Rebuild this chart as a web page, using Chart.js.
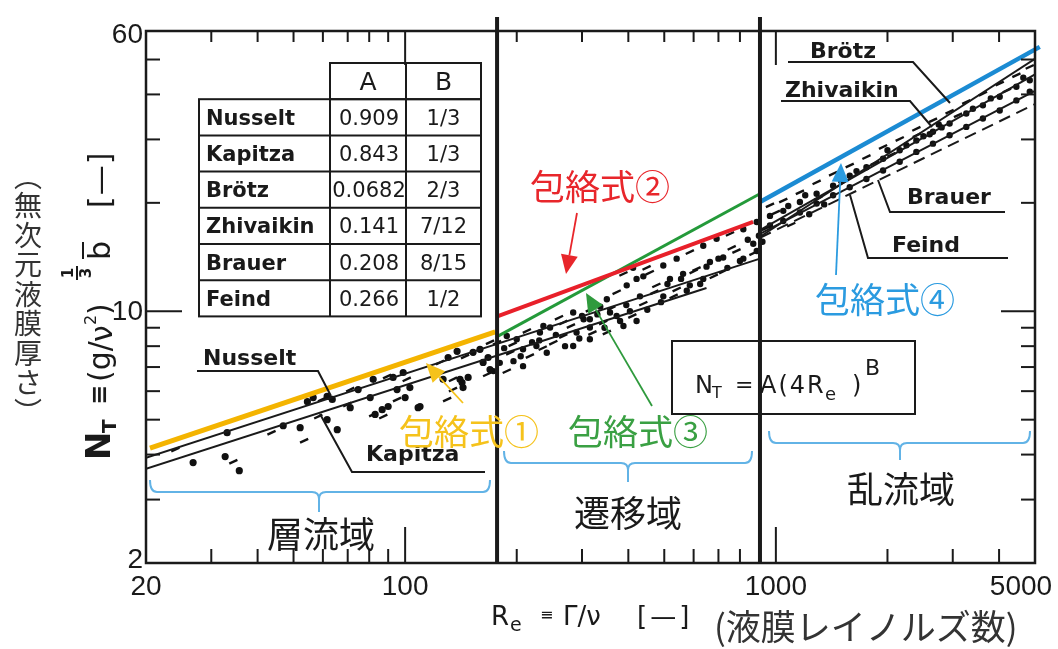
<!DOCTYPE html>
<html>
<head>
<meta charset="utf-8">
<script src="https://cdn.jsdelivr.net/npm/chart.js@4.4.0/dist/chart.umd.min.js"></script>
<style>
  html, body { margin: 0; padding: 0; background: #fff; }
  canvas { display: block; }
</style>
</head>
<body>
<canvas id="chart" width="1058" height="649"></canvas>
<script>
// axes (log-log)
const xRange = [20, 5000];
const yRange = [2, 60];
const xTickLabels = [20, 100, 1000, 5000];
const yTickLabels = [2, 10, 60];
const xMinorTicks = [30, 40, 50, 60, 70, 80, 90, 200, 300, 400, 500, 600, 700, 800, 2000, 3000, 4000];
const xMajorTicks = [100, 1000];
const yMinorTicks = [3, 4, 5, 6, 7, 8, 9, 20, 30, 40, 50];
const yMajorTicks = [10];
const regionBounds = [177, 906];   // laminar | transition | turbulent

// correlation lines N_T = A(4Re)^B, end points
const nusseltLine = [[20, 3.92], [906, 14.0]];
const kapitzaLine = [[20, 3.65], [650, 11.6]];
const brotzLine = [[906, 16.1], [5000, 50.2]];
const zhivaikinLine = [[906, 16.8], [5000, 45.5]];
const brauerLine = [[906, 16.4], [5000, 40.9]];
const feindLine = [[906, 16.0], [5000, 37.6]];

// envelopes (包絡式 1-4)
const envelope1 = [[20.5, 4.17], [175, 8.76]];
const envelope2 = [[178, 9.70], [868, 17.7]];
const envelope3 = [[178, 8.53], [906, 21.2]];
const envelope4 = [[906, 20.1], [5150, 54.2]];

// measured points [Re, N_T]
const laminarPts = [
  [24.0, 4.13], [26.8, 3.80], [32.7, 3.95], [34.4, 3.82], [35.7, 3.61], [33.1, 4.60], [43.6, 4.60],
  [46.9, 4.81], [52.1, 4.75], [53.4, 4.37], [54.5, 5.61], [56.5, 5.76], [59.7, 5.69], [61.6, 5.80],
  [63.6, 5.69], [58.3, 5.10], [61.6, 5.00], [65.6, 4.69], [71.1, 6.06], [74.7, 6.06], [80.5, 5.76],
  [69.8, 5.51], [71.1, 5.40], [82.0, 6.47], [89.4, 6.59], [92.8, 6.55], [98.8, 6.76], [101, 6.47],
  [95.1, 6.06], [103, 6.14], [82.0, 5.17], [86.7, 5.33], [90.0, 5.44], [95.1, 5.69], [100, 5.76],
  [108.4, 5.40], [124.2, 7.21], [130.6, 7.44], [138.1, 7.74], [145.1, 7.49], [152.5, 7.69], [159.2, 7.84],
  [169.4, 8.20], [167.4, 7.44], [126.6, 6.47], [134.6, 6.47], [142.4, 6.34], [147.9, 6.55], [129.8, 5.69],
  [162.3, 7.21], [169.4, 6.89], [166.4, 6.68], [140.6, 6.47], [143.3, 6.14], [134.6, 6.06], [109.7, 5.44],
  [83.0, 5.17], [87.3, 5.10]
];
const transitionPts = [
  [177, 8.18], [188, 8.54], [200, 8.36], [213, 8.82], [231, 8.73], [246, 9.01], [192, 7.67], [208, 7.84],
  [226, 8.01], [251, 8.18], [180, 7.19], [196, 7.27], [217, 7.51], [241, 7.67], [173, 6.82], [188, 6.82],
  [208, 7.04], [236, 9.10], [267, 9.30], [284, 9.92], [303, 9.50], [315, 10.1], [336, 10.3], [350, 10.8],
  [372, 11.3], [396, 11.8], [421, 12.3], [267, 8.54], [290, 8.73], [315, 9.01], [342, 9.30], [372, 9.70],
  [404, 10.0], [439, 10.5], [284, 8.01], [315, 8.36], [350, 8.73], [388, 9.10], [421, 9.40], [388, 12.7],
  [412, 13.2], [439, 12.5], [457, 12.8], [497, 13.4], [540, 14.0], [586, 14.6], [637, 15.2], [692, 15.9],
  [752, 16.4], [817, 16.9], [888, 17.7], [476, 11.8], [518, 12.3], [562, 12.7], [611, 13.1], [664, 13.7],
  [721, 14.1], [783, 14.7], [869, 15.4], [497, 11.0], [540, 11.5], [586, 11.8], [637, 12.3], [721, 12.9],
  [817, 14.0], [888, 14.7], [448, 13.2], [315, 9.50], [357, 9.92], [260, 9.60], [230, 8.30],
  [185, 7.9], [195, 8.1], [205, 7.5], [220, 8.2], [235, 7.9], [255, 8.6], [270, 8.0], [280, 9.1],
  [295, 8.4], [300, 9.7], [320, 8.7], [330, 9.8], [345, 9.0], [360, 10.2], [380, 9.4], [395, 10.4],
  [410, 9.7], [430, 11.0], [450, 10.1], [470, 11.3], [490, 10.6], [510, 11.9], [530, 11.0], [555, 12.3],
  [575, 11.4], [600, 12.9], [625, 11.9], [650, 13.3], [680, 12.5], [700, 14.0], [740, 13.2], [760, 15.0],
  [800, 13.8], [840, 15.8], [870, 14.5], [900, 16.2], [920, 15.6], [940, 17.0]
];
const turbulentPts = [
  [964, 19.7], [964, 18.4], [964, 17.3], [1047, 20.3], [1047, 19.0], [1047, 17.8], [1161, 21.4], [1161, 20.1],
  [1161, 18.8], [1288, 22.8], [1288, 21.2], [1288, 19.9], [1427, 24.1], [1427, 22.3], [1427, 21.0],
  [1582, 25.4], [1582, 23.8], [1582, 22.1], [1755, 26.8], [1755, 25.1], [1755, 23.3], [1946, 28.6],
  [1946, 26.5], [1946, 24.6], [2158, 30.1], [2158, 28.0], [2158, 26.0], [2393, 32.1], [2393, 29.8],
  [2393, 27.7], [2653, 33.9], [2653, 31.5], [2653, 29.2], [2942, 35.8], [2942, 33.2], [2942, 30.8],
  [3263, 38.1], [3263, 35.4], [3263, 32.5], [3618, 40.2], [3618, 37.3], [3618, 34.3], [4016, 42.9],
  [4016, 39.4], [4016, 36.1], [4454, 45.2], [4454, 42.0], [4454, 38.5], [4840, 47.7], [4840, 43.8],
  [4840, 40.7], [1100, 17.4], [1230, 18.6], [1350, 19.8], [2050, 27.2], [2500, 30.6], [2800, 32.4],
  [1000, 18.8], [1080, 19.6], [1200, 21.0], [1300, 20.6], [1500, 23.0], [1650, 24.5], [1850, 25.8],
  [2000, 28.0], [2250, 28.9], [2400, 30.8], [2600, 31.0], [2750, 33.0], [3100, 35.0], [3400, 36.5],
  [3800, 39.0], [4200, 41.0], [4650, 44.5]
];

// table of coefficients
const tableNames = ['Nusselt', 'Kapitza', 'Brötz', 'Zhivaikin', 'Brauer', 'Feind'];
const tableA = ['0.909', '0.843', '0.0682', '0.141', '0.208', '0.266'];
const tableB = ['1/3', '1/3', '2/3', '7/12', '8/15', '1/2'];

const toXY = arr => arr.map(p => ({ x: p[0], y: p[1] }));

function lineSet(pts, color, width, order, dash, clip) {
  return {
    data: toXY(pts), showLine: true, borderColor: color, borderWidth: width,
    borderDash: dash || [], pointRadius: 0, order: order,
    clip: clip === undefined ? 0 : clip, borderCapStyle: 'butt'
  };
}

function pointSet(pts, dotSize) {
  return {
    data: toXY(pts), showLine: false, order: 5,
    backgroundColor: '#111', borderColor: '#111', borderWidth: 2.4,
    pointStyle: c => (c.dataIndex % 3 === 0 ? 'line' : 'circle'),
    pointRotation: -25,
    pointRadius: c => (c.dataIndex % 3 === 0 ? 4.5 : dotSize)
  };
}

const SANS = '"DejaVu Sans"';
const JP = '"Noto Sans CJK JP"';

function seg(ctx, pts) {
  ctx.beginPath();
  ctx.moveTo(pts[0][0], pts[0][1]);
  for (let i = 1; i < pts.length; i++) ctx.lineTo(pts[i][0], pts[i][1]);
  ctx.stroke();
}

function text(ctx, s, x, y, font, color, align, base) {
  ctx.font = font;
  ctx.fillStyle = color;
  ctx.textAlign = align || 'left';
  ctx.textBaseline = base || 'alphabetic';
  ctx.fillText(s, x, y);
}

function arrow(ctx, x0, y0, x1, y1, color) {
  const ang = Math.atan2(y1 - y0, x1 - x0);
  const len = 19, half = 8.5;
  const bx = x1 - len * Math.cos(ang), by = y1 - len * Math.sin(ang);
  ctx.strokeStyle = color;
  ctx.fillStyle = color;
  ctx.lineWidth = 1.8;
  seg(ctx, [[x0, y0], [bx, by]]);
  ctx.beginPath();
  ctx.moveTo(x1, y1);
  ctx.lineTo(bx + half * Math.sin(ang), by - half * Math.cos(ang));
  ctx.lineTo(bx - half * Math.sin(ang), by + half * Math.cos(ang));
  ctx.closePath();
  ctx.fill();
}

function brace(ctx, x1, x2, xc, y, up, down) {
  const r = 7;
  ctx.strokeStyle = '#62b3e6';
  ctx.lineWidth = 2;
  ctx.beginPath();
  ctx.moveTo(x1, y - up);
  ctx.quadraticCurveTo(x1, y, x1 + r, y);
  ctx.lineTo(xc - r, y);
  ctx.quadraticCurveTo(xc, y, xc, y + r);
  ctx.lineTo(xc, y + down);
  ctx.moveTo(xc, y + r);
  ctx.quadraticCurveTo(xc, y, xc + r, y);
  ctx.lineTo(x2 - r, y);
  ctx.quadraticCurveTo(x2, y, x2, y - up);
  ctx.stroke();
}

const decorations = {
  id: 'decorations',
  afterDatasetsDraw(chart) {
    const ctx = chart.ctx;
    const a = chart.chartArea;
    const xs = chart.scales.x, ys = chart.scales.y;
    ctx.save();
    ctx.lineCap = 'butt';

    // frame and ticks
    ctx.strokeStyle = '#1a1a1a';
    ctx.lineWidth = 2.5;
    ctx.strokeRect(a.left, a.top, a.right - a.left, a.bottom - a.top);
    ctx.lineWidth = 2;
    xMinorTicks.forEach(v => {
      const p = xs.getPixelForValue(v);
      seg(ctx, [[p, a.bottom], [p, a.bottom - 14]]);
      seg(ctx, [[p, a.top], [p, a.top + 11]]);
    });
    xMajorTicks.forEach(v => {
      const p = xs.getPixelForValue(v);
      seg(ctx, [[p, a.bottom], [p, a.bottom - 36]]);
      seg(ctx, [[p, a.top], [p, a.top + 34]]);
    });
    yMinorTicks.forEach(v => {
      const p = ys.getPixelForValue(v);
      seg(ctx, [[a.left, p], [a.left + 14, p]]);
      seg(ctx, [[a.right, p], [a.right - 14, p]]);
    });
    yMajorTicks.forEach(v => {
      const p = ys.getPixelForValue(v);
      seg(ctx, [[a.left, p], [a.left + 36, p]]);
      seg(ctx, [[a.right, p], [a.right - 34, p]]);
    });

    // region boundaries
    ctx.lineWidth = 4;
    regionBounds.forEach(v => {
      const p = xs.getPixelForValue(v);
      seg(ctx, [[p, a.top - 14], [p, a.bottom]]);
    });

    // tick labels
    const tickFont = '28px "Liberation Sans"';
    xTickLabels.forEach(v => {
      let p = xs.getPixelForValue(v);
      if (v === 5000) p -= 14;
      text(ctx, String(v), p, 587, tickFont, '#1a1a1a', 'center', 'middle');
    });
    yTickLabels.forEach(v => {
      let p = ys.getPixelForValue(v);
      if (v === 60) p += 3;
      if (v === 2) p -= 4;
      text(ctx, String(v), 143, p + 1, tickFont, '#1a1a1a', 'right', 'middle');
    });

    // coefficient table
    ctx.strokeStyle = '#1a1a1a';
    ctx.lineWidth = 2;
    const tx = [199, 330, 406, 481], ty0 = 63, th = 36.2, rows = tableNames.length;
    ctx.strokeRect(tx[1], ty0, tx[3] - tx[1], th);
    ctx.strokeRect(tx[0], ty0 + th, tx[3] - tx[0], th * rows);
    seg(ctx, [[tx[2], ty0], [tx[2], ty0 + th * (rows + 1)]]);
    seg(ctx, [[tx[1], ty0 + th], [tx[1], ty0 + th * (rows + 1)]]);
    for (let i = 2; i <= rows; i++) seg(ctx, [[tx[0], ty0 + th * i], [tx[3], ty0 + th * i]]);
    text(ctx, 'A', (tx[1] + tx[2]) / 2, ty0 + th / 2 + 2, '25px ' + SANS, '#1a1a1a', 'center', 'middle');
    text(ctx, 'B', (tx[2] + tx[3]) / 2, ty0 + th / 2 + 2, '25px ' + SANS, '#1a1a1a', 'center', 'middle');
    tableNames.forEach((n, i) => {
      const cy = ty0 + th * (i + 1) + th / 2 + 2;
      text(ctx, n, tx[0] + 7, cy, 'bold 21px ' + SANS, '#1a1a1a', 'left', 'middle');
      text(ctx, tableA[i], (tx[1] + tx[2]) / 2 + 1, cy, '21px ' + SANS, '#1a1a1a', 'center', 'middle');
      text(ctx, tableB[i], (tx[2] + tx[3]) / 2, cy, '21px ' + SANS, '#1a1a1a', 'center', 'middle');
    });

    // correlation labels with leader lines
    const lf = 'bold 22px ' + SANS;
    ctx.lineWidth = 2;
    ctx.strokeStyle = '#1a1a1a';
    text(ctx, 'Nusselt', 203, 365, lf, '#1a1a1a');
    seg(ctx, [[197, 371], [318, 371], [331, 396]]);
    text(ctx, 'Kapitza', 366, 461, lf, '#1a1a1a');
    seg(ctx, [[320, 414], [352, 472], [485, 472]]);
    text(ctx, 'Brötz', 810, 58, lf, '#1a1a1a');
    seg(ctx, [[788, 62], [913, 62], [950, 103]]);
    text(ctx, 'Zhivaikin', 785, 97, lf, '#1a1a1a');
    seg(ctx, [[781, 101], [910, 101], [932, 127]]);
    text(ctx, 'Brauer', 907, 204, lf, '#1a1a1a');
    seg(ctx, [[878, 180], [890, 212], [1005, 212]]);
    text(ctx, 'Feind', 892, 252, lf, '#1a1a1a');
    seg(ctx, [[850, 195], [868, 258], [1008, 258]]);

    // envelope labels and arrows
    const ef = '35px ' + JP;
    text(ctx, '包絡式②', 530, 187, ef, '#e8262b', 'left', 'middle');
    arrow(ctx, 577, 213, 566, 274, '#e8262b');
    text(ctx, '包絡式①', 399, 432, ef, '#f5c21b', 'left', 'middle');
    arrow(ctx, 463, 403, 426, 363, '#f5c21b');
    text(ctx, '包絡式③', 568, 432, ef, '#3aa043', 'left', 'middle');
    arrow(ctx, 652, 406, 586, 293, '#2f9a3d');
    text(ctx, '包絡式④', 815, 300, ef, '#2b9be0', 'left', 'middle');
    arrow(ctx, 836, 275, 841, 163, '#2b9be0');

    // formula box
    ctx.strokeStyle = '#1a1a1a';
    ctx.lineWidth = 2;
    ctx.strokeRect(672, 341, 243, 73);
    text(ctx, 'N', 695, 393, '24px ' + SANS, '#1a1a1a');
    text(ctx, 'T', 712, 398, '16px ' + SANS, '#1a1a1a');
    text(ctx, '=', 735, 392, '22px ' + SANS, '#1a1a1a');
    ctx.letterSpacing = '2px';
    text(ctx, 'A(4R', 760, 393, '24px ' + SANS, '#1a1a1a');
    ctx.letterSpacing = '0px';
    text(ctx, 'e', 825, 400, '18px ' + SANS, '#1a1a1a');
    text(ctx, ')', 852, 393, '24px ' + SANS, '#1a1a1a');
    text(ctx, 'B', 865, 375, '22px ' + SANS, '#1a1a1a');

    // regime braces and names
    brace(ctx, 150, 490, 319, 492, 12, 20);
    brace(ctx, 504, 752, 628, 463, 12, 19);
    brace(ctx, 769, 1030, 900, 443, 12, 17);
    const rf = '36px ' + JP;
    text(ctx, '層流域', 321, 534, rf, '#1a1a1a', 'center', 'middle');
    text(ctx, '遷移域', 628, 513, rf, '#1a1a1a', 'center', 'middle');
    text(ctx, '乱流域', 901, 489, rf, '#1a1a1a', 'center', 'middle');

    // x axis title
    text(ctx, 'R', 491, 625, '26px ' + SANS, '#1a1a1a');
    text(ctx, 'e', 510, 631, '19px ' + SANS, '#1a1a1a');
    text(ctx, '≡', 540, 620, '16px ' + SANS, '#1a1a1a');
    text(ctx, 'Γ/ν', 563, 625, '26px ' + SANS, '#1a1a1a');
    ctx.letterSpacing = '3px';
    text(ctx, '[—]', 637, 625, '26px ' + SANS, '#1a1a1a');
    ctx.letterSpacing = '0px';
    text(ctx, '(液膜レイノルズ数)', 714, 627, '35px ' + JP, '#333', 'left', 'middle');

    // y axis title (rotated)
    ctx.save();
    ctx.translate(110, 460);
    ctx.rotate(-Math.PI / 2);
    text(ctx, 'N', 0, 0, 'bold 34px ' + SANS, '#1a1a1a');
    text(ctx, 'T', 27, 6, 'bold 20px ' + SANS, '#1a1a1a');
    text(ctx, '≡', 55, -3, 'bold 24px ' + SANS, '#1a1a1a');
    text(ctx, '(g/', 78, 0, '30px ' + SANS, '#1a1a1a');
    text(ctx, 'ν', 118, 2, '30px ' + SANS, '#1a1a1a');
    text(ctx, '2', 135, -14, '16px ' + SANS, '#1a1a1a');
    text(ctx, ')', 145, 0, '30px ' + SANS, '#1a1a1a');
    text(ctx, '1', 187, -37, 'bold 15px ' + SANS, '#1a1a1a', 'center');
    ctx.fillStyle = '#1a1a1a';
    ctx.fillRect(180, -34, 14, 2);
    text(ctx, '3', 187, -19, 'bold 15px ' + SANS, '#1a1a1a', 'center');
    text(ctx, 'b', 200, 0, '30px ' + SANS, '#1a1a1a');
    ctx.fillRect(201, -28, 17, 2);
    ctx.letterSpacing = '1px';
    text(ctx, '[—]', 252, 0, '30px ' + SANS, '#1a1a1a');
    ctx.letterSpacing = '0px';
    ctx.restore();

    // vertical Japanese caption
    const vChars = ['︵', '無', '次', '元', '液', '膜', '厚', 'さ', '︶'];
    vChars.forEach((c, i) => {
      text(ctx, c, 28, 176 + i * 29.5, '28px ' + JP, '#333', 'center', 'middle');
    });

    ctx.restore();
  }
};

new Chart(document.getElementById('chart').getContext('2d'), {
  type: 'scatter',
  data: {
    datasets: [
      lineSet(envelope1, '#f4b400', 5, 0),
      lineSet(envelope2, '#e8202a', 4, 0),
      lineSet(envelope3, '#249a3a', 3, 0),
      lineSet(envelope4, '#1b8bd3', 4.5, 0, [], 8),
      lineSet(nusseltLine, '#1a1a1a', 2, 2),
      lineSet(kapitzaLine, '#1a1a1a', 2, 2),
      lineSet(brotzLine, '#1a1a1a', 2, 2),
      lineSet(zhivaikinLine, '#1a1a1a', 2, 2),
      lineSet(brauerLine, '#1a1a1a', 2, 2),
      lineSet(feindLine, '#1a1a1a', 2, 2, [12, 7]),
      pointSet(laminarPts, 2.4),
      pointSet(transitionPts, 2.0),
      pointSet(turbulentPts, 2.0)
    ]
  },
  options: {
    responsive: false,
    maintainAspectRatio: false,
    devicePixelRatio: 1,
    animation: false,
    events: [],
    layout: { padding: { left: 146, right: 23, top: 31, bottom: 86 } },
    plugins: { legend: { display: false }, tooltip: { enabled: false } },
    scales: {
      x: { type: 'logarithmic', min: xRange[0], max: xRange[1], display: false },
      y: { type: 'logarithmic', min: yRange[0], max: yRange[1], display: false }
    }
  },
  plugins: [decorations]
});
</script>
</body>
</html>
